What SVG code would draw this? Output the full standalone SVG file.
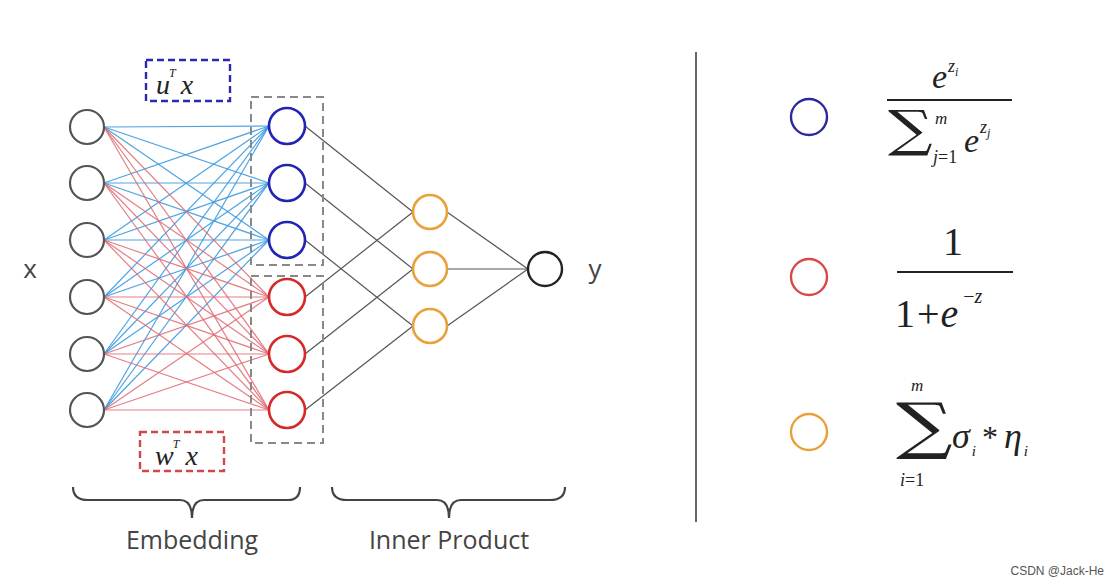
<svg xmlns="http://www.w3.org/2000/svg" width="1120" height="585" viewBox="0 0 1120 585">
<style>
.in{fill:none;stroke:#555;stroke-width:2.2}
.bn{fill:none;stroke:#2424b4;stroke-width:2.6}
.rn{fill:none;stroke:#d42a2a;stroke-width:2.6}
.on{fill:none;stroke:#e8a23c;stroke-width:2.6}
.out{fill:none;stroke:#222;stroke-width:2.4}
.eb{stroke:#3d9be0;stroke-width:1.2;opacity:0.9}
.er{stroke:#e06a72;stroke-width:1.2;opacity:0.85}
.eg{stroke:#555;stroke-width:1.2}
.box{fill:none;stroke:#888;stroke-width:2;stroke-dasharray:8 5}
.sans{font-family:"Open Sans","Liberation Sans",sans-serif;fill:#444}
.m{font-family:"Liberation Serif","Times New Roman",serif;fill:#222}
.i{font-style:italic}
.sig{font-family:"DejaVu Serif","Liberation Serif",serif;fill:#222}
</style>
<rect width="1120" height="585" fill="#fff"/>
<g id="connectors">
<g id="to-blue">
<line class="eb" x1="104" y1="127" x2="269" y2="126"/><line class="eb" x1="104" y1="127" x2="269" y2="183"/><line class="eb" x1="104" y1="127" x2="269" y2="240"/>
<line class="eb" x1="104" y1="183" x2="269" y2="126"/><line class="eb" x1="104" y1="183" x2="269" y2="183"/><line class="eb" x1="104" y1="183" x2="269" y2="240"/>
<line class="eb" x1="104" y1="240" x2="269" y2="126"/><line class="eb" x1="104" y1="240" x2="269" y2="183"/><line class="eb" x1="104" y1="240" x2="269" y2="240"/>
<line class="eb" x1="104" y1="297" x2="269" y2="126"/><line class="eb" x1="104" y1="297" x2="269" y2="183"/><line class="eb" x1="104" y1="297" x2="269" y2="240"/>
<line class="eb" x1="104" y1="354" x2="269" y2="126"/><line class="eb" x1="104" y1="354" x2="269" y2="183"/><line class="eb" x1="104" y1="354" x2="269" y2="240"/>
<line class="eb" x1="104" y1="410" x2="269" y2="126"/><line class="eb" x1="104" y1="410" x2="269" y2="183"/><line class="eb" x1="104" y1="410" x2="269" y2="240"/>
</g>
<g id="to-red">
<line class="er" x1="104" y1="127" x2="269" y2="297"/><line class="er" x1="104" y1="127" x2="269" y2="354"/><line class="er" x1="104" y1="127" x2="269" y2="410"/>
<line class="er" x1="104" y1="183" x2="269" y2="297"/><line class="er" x1="104" y1="183" x2="269" y2="354"/><line class="er" x1="104" y1="183" x2="269" y2="410"/>
<line class="er" x1="104" y1="240" x2="269" y2="297"/><line class="er" x1="104" y1="240" x2="269" y2="354"/><line class="er" x1="104" y1="240" x2="269" y2="410"/>
<line class="er" x1="104" y1="297" x2="269" y2="297"/><line class="er" x1="104" y1="297" x2="269" y2="354"/><line class="er" x1="104" y1="297" x2="269" y2="410"/>
<line class="er" x1="104" y1="354" x2="269" y2="297"/><line class="er" x1="104" y1="354" x2="269" y2="354"/><line class="er" x1="104" y1="354" x2="269" y2="410"/>
<line class="er" x1="104" y1="410" x2="269" y2="297"/><line class="er" x1="104" y1="410" x2="269" y2="354"/><line class="er" x1="104" y1="410" x2="269" y2="410"/>
</g>
<g id="to-orange">
<line class="eg" x1="305" y1="126" x2="413" y2="212"/>
<line class="eg" x1="305" y1="183" x2="413" y2="269"/>
<line class="eg" x1="305" y1="240" x2="413" y2="326"/>
<line class="eg" x1="305" y1="297" x2="413" y2="212"/>
<line class="eg" x1="305" y1="354" x2="413" y2="269"/>
<line class="eg" x1="305" y1="410" x2="413" y2="326"/>
</g>
<g id="to-output">
<line class="eg" x1="447" y1="212" x2="528" y2="269"/>
<line class="eg" x1="447" y1="269" x2="528" y2="269"/>
<line class="eg" x1="447" y1="326" x2="528" y2="269"/>
</g>
</g>
<g id="input-layer">
<circle class="in" cx="87" cy="127" r="17"/><circle class="in" cx="87" cy="183" r="17"/><circle class="in" cx="87" cy="240" r="17"/>
<circle class="in" cx="87" cy="297" r="17"/><circle class="in" cx="87" cy="354" r="17"/><circle class="in" cx="87" cy="410" r="17"/>
<text class="sans" x="30" y="278" font-size="26" text-anchor="middle">x</text>
</g>
<g id="blue-group">
<rect class="box" x="251" y="97" width="72" height="168"/>
<circle class="bn" cx="287" cy="126" r="18"/><circle class="bn" cx="287" cy="183" r="18"/><circle class="bn" cx="287" cy="240" r="18"/>
</g>
<g id="red-group">
<rect class="box" x="251" y="276" width="72" height="167"/>
<circle class="rn" cx="287" cy="297" r="18"/><circle class="rn" cx="287" cy="354" r="18"/><circle class="rn" cx="287" cy="410" r="18"/>
</g>
<g id="uTx">
<rect x="146" y="60" width="84" height="41" fill="none" stroke="#2a2ab0" stroke-width="2.4" stroke-dasharray="7 4"/>
<text class="m i" x="156" y="94" font-size="28">u<tspan font-size="12" dy="-17" dx="-1">T</tspan><tspan font-size="28" dy="17" dx="5">x</tspan></text>
</g>
<g id="wTx">
<rect x="140" y="432" width="84" height="39" fill="none" stroke="#d04848" stroke-width="2.4" stroke-dasharray="7 4"/>
<text class="m i" x="155" y="465" font-size="28">w<tspan font-size="12" dy="-17" dx="-1">T</tspan><tspan font-size="28" dy="17" dx="6">x</tspan></text>
</g>
<g id="orange-layer">
<circle class="on" cx="430" cy="212" r="17"/><circle class="on" cx="430" cy="269" r="17"/><circle class="on" cx="430" cy="326" r="17"/>
</g>
<g id="output">
<circle class="out" cx="545" cy="269" r="17"/>
<text class="sans" x="595" y="278" font-size="26" text-anchor="middle">y</text>
</g>
<g id="embedding-brace">
<path d="M73,487 Q73,500 88,500 L180,500 Q192,500 192,518 Q192,500 204,500 L288,500 Q300,500 300,487" fill="none" stroke="#444" stroke-width="2.2"/>
<text class="sans" x="192" y="549" font-size="25" text-anchor="middle">Embedding</text>
</g>
<g id="inner-brace">
<path d="M332,487 Q332,500 347,500 L437,500 Q449,500 449,518 Q449,500 461,500 L550,500 Q565,500 565,487" fill="none" stroke="#444" stroke-width="2.2"/>
<text class="sans" x="449" y="549" font-size="25" text-anchor="middle">Inner Product</text>
</g>
<line id="divider" x1="696" y1="52" x2="696" y2="522" stroke="#333" stroke-width="1.5"/>
<g id="legend-softmax">
<circle cx="809" cy="117" r="18" fill="none" stroke="#2a2a9a" stroke-width="2.4"/>
<text class="m i" x="932" y="88" font-size="34">e<tspan font-size="18" dy="-16" dx="1">z</tspan><tspan font-size="12" dy="4">i</tspan></text>
<line x1="887" y1="100" x2="1012" y2="100" stroke="#222" stroke-width="2.2"/>
<text class="sig" transform="translate(888,146) scale(1.25,1)" font-size="50">∑</text>
<text class="m i" x="935" y="124" font-size="17">m</text>
<text class="m" x="933" y="163" font-size="18"><tspan class="i">j</tspan>=1</text>
<text class="m i" x="964" y="152" font-size="34">e<tspan font-size="18" dy="-19" dx="1">z</tspan><tspan font-size="12" dy="4">j</tspan></text>
</g>
<g id="legend-sigmoid">
<circle cx="809" cy="277" r="18" fill="none" stroke="#d84848" stroke-width="2.4"/>
<text class="m" x="953" y="255" font-size="40" text-anchor="middle">1</text>
<line x1="897" y1="272" x2="1013" y2="272" stroke="#222" stroke-width="2.2"/>
<text class="m" x="895" y="327" font-size="40">1<tspan dx="2">+</tspan><tspan class="i" dx="1">e</tspan><tspan font-size="20" dy="-24" dx="5">−</tspan><tspan class="i" font-size="20">z</tspan></text>
</g>
<g id="legend-sum">
<circle cx="809" cy="432" r="18" fill="none" stroke="#e8a03a" stroke-width="2.4"/>
<text class="sig" transform="translate(896,447) scale(1.28,1)" font-size="62">∑</text>
<text class="m i" x="911" y="391" font-size="17">m</text>
<text class="m" x="900" y="486" font-size="18"><tspan class="i">i</tspan>=1</text>
<text class="m i" x="952" y="448" font-size="36">σ<tspan font-size="15" dy="8" dx="2">i</tspan><tspan class="m" font-style="normal" font-size="32" dy="-8" dx="6">*</tspan><tspan font-size="36" dx="6">η</tspan><tspan font-size="15" dy="8" dx="2">i</tspan></text>
</g>
<text x="1104" y="575" font-size="12" text-anchor="end" fill="#555" font-family="Liberation Sans, sans-serif">CSDN @Jack-He</text>
</svg>
